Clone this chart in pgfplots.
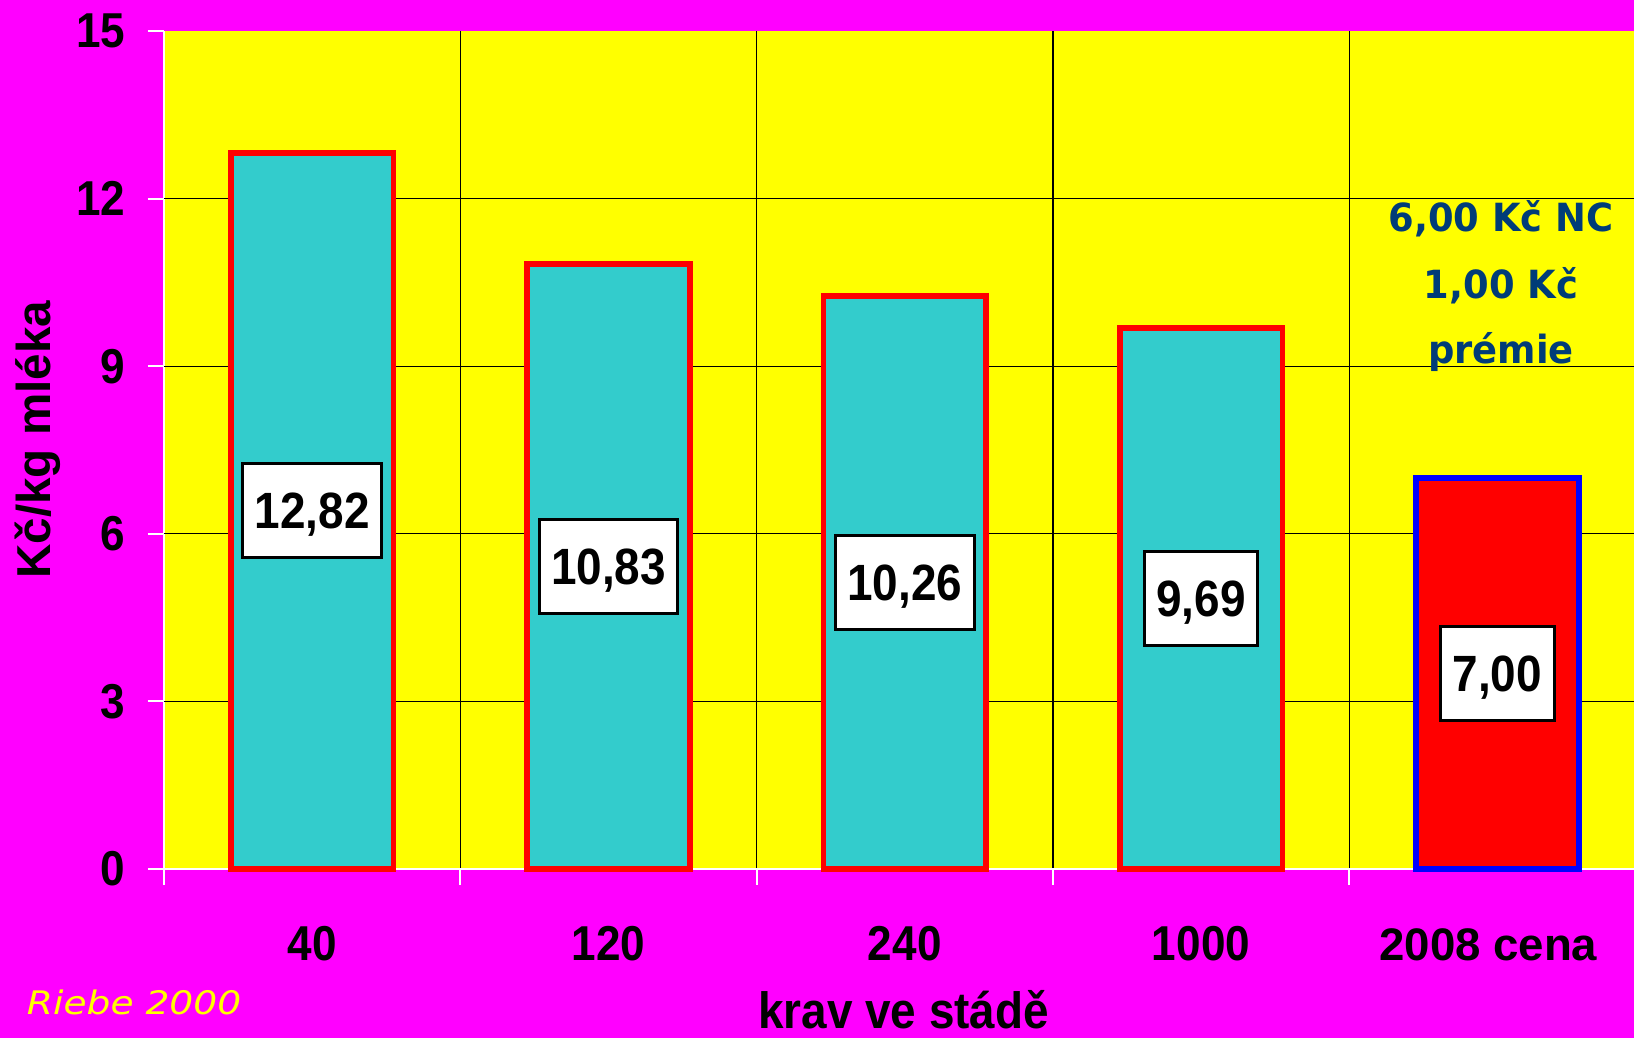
\documentclass[border=0pt]{standalone}
\usepackage{fontspec}
\setmainfont{Liberation Sans}
\newfontfamily\cond[FakeStretch=0.9]{Liberation Sans}
\newfontfamily\plain{Liberation Sans}
\newfontfamily\dvs[FakeStretch=0.95]{DejaVu Sans}
\newfontfamily\dvw[FakeStretch=1.16]{DejaVu Sans}
\usepackage{pgfplots}
\pgfplotsset{compat=1.18}
\usepackage{pgfplotstable}
\definecolor{bgmag}{RGB}{255,0,255}
\definecolor{plotyel}{RGB}{255,255,0}
\definecolor{barcyan}{RGB}{51,204,204}
\definecolor{navy}{RGB}{0,60,120}

\pgfplotstableread{
x y label
0 12.82 12,82
1 10.83 10,83
2 10.26 10,26
3 9.69 9,69
}\cyanbars
\pgfplotstableread{
x y label
4 7.00 7,00
}\redbars
\pgfplotstableread{
x y label
0 12.82 12,82
1 10.83 10,83
2 10.26 10,26
3 9.69 9,69
4 7.00 7,00
}\allbars

\begin{document}
\begin{tikzpicture}
\fill[bgmag] (-82pt,-84.5pt) rectangle (735pt,434.5pt);
\begin{axis}[
  scale only axis,
  width=740.75pt, height=418.95pt,
  at={(0,0)}, anchor=south west,
  xmin=-0.5, xmax=4.5, ymin=0, ymax=15,
  axis background/.style={fill=plotyel},
  axis x line*=bottom, axis y line*=left,
  axis line style={white, line width=1pt},
  xtick={-0.5,0.5,1.5,2.5,3.5,4.5},
  x tick label as interval,
  xticklabels={40,120,240,1000,{\plain\bfseries\fontsize{22.8}{22.8}\selectfont 2008 cena\kern9pt}},
  ytick={0,3,6,9,12,15},
  yticklabels={0,3,6,9,12,15},
  xmajorgrids,
  extra y ticks={3,6,9,12},
  extra y tick labels={},
  extra y tick style={grid=major},
  major grid style={black, line width=0.65pt},
  tick align=outside, major tick length=8pt,
  tick style={white, line width=1pt},
  ticklabel style={font=\cond\bfseries\fontsize{24.5}{24.5}\selectfont, text=black, inner sep=0pt},
  xticklabel style={anchor=base, yshift=-38pt},
  yticklabel style={anchor=east, xshift=-11.25pt},
  clip=false,
]
\addplot[ybar, bar width=0.549, bar shift=0pt, fill=barcyan, draw=red, line width=2.85pt]
  table[x=x, y=y] {\cyanbars};
\addplot[ybar, bar width=0.549, bar shift=0pt, fill=red, draw=blue, line width=2.85pt]
  table[x=x, y=y] {\redbars};
\addplot[draw=none, mark=none, nodes near coords, point meta=explicit symbolic,
  nodes near coords style={anchor=center, draw=black, fill=white, text=black,
    line width=1.5pt, inner xsep=6pt, inner ysep=0pt, minimum height=47pt, text depth=0pt,
    font=\cond\bfseries\fontsize{25.5}{25.5}\selectfont}]
  table[x=x, y expr=\thisrow{y}/2, meta=label] {\allbars};
\end{axis}
\node[rotate=90, anchor=base, inner sep=0pt, font=\bfseries\fontsize{23.8}{23.8}\selectfont] at (-56.65pt,214.65pt) {Kč/kg mléka};
\node[anchor=base, inner sep=0pt, font=\cond\bfseries\fontsize{25.5}{25.5}\selectfont] at (369.85pt,-80pt) {krav ve stádě};
\node[anchor=base west, inner sep=0pt, text=plotyel, font=\dvw\itshape\fontsize{16.2}{16.2}\selectfont] at (-68.7pt,-72.7pt) {Riebe 2000};
\node[anchor=base, inner sep=0pt, text=navy, font=\dvs\bfseries\fontsize{19.4}{19.4}\selectfont] at (668.5pt,318.65pt) {6,00 Kč NC};
\node[anchor=base, inner sep=0pt, text=navy, font=\dvs\bfseries\fontsize{19.4}{19.4}\selectfont] at (668.5pt,285.35pt) {1,00 Kč};
\node[anchor=base, inner sep=0pt, text=navy, font=\dvs\bfseries\fontsize{19.4}{19.4}\selectfont] at (668.5pt,252.85pt) {prémie};
\pgfresetboundingbox
\useasboundingbox (-82pt,-84.5pt) rectangle (735pt,434.5pt);
\end{tikzpicture}
\end{document}
